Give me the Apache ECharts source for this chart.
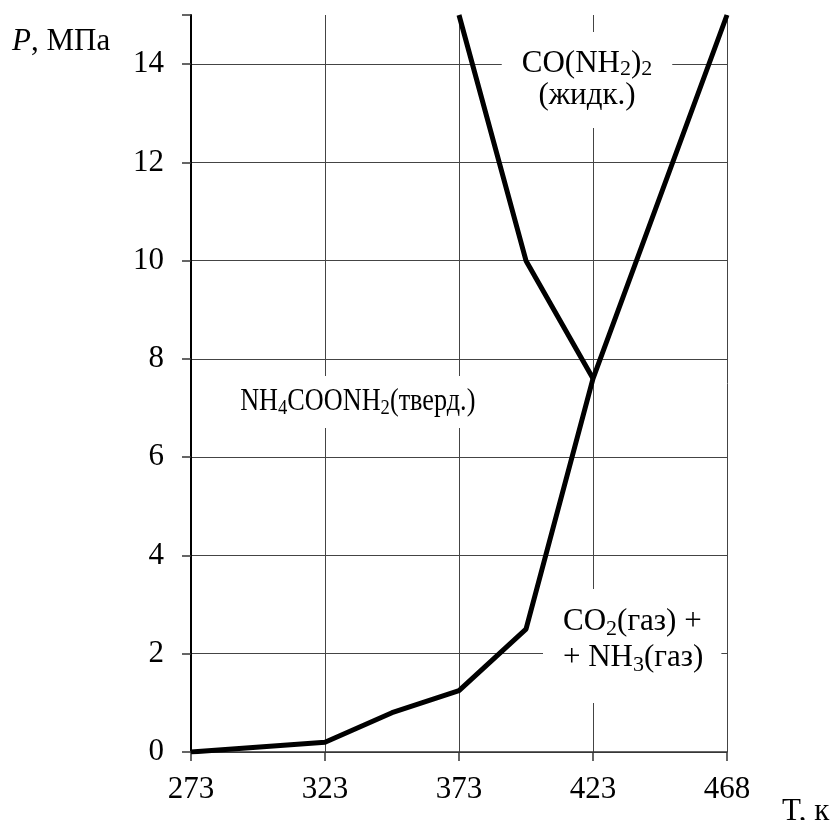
<!DOCTYPE html>
<html>
<head>
<meta charset="utf-8">
<script src="https://cdn.jsdelivr.net/npm/echarts@6/dist/echarts.min.js"></script>
<style>
  html, body { margin: 0; padding: 0; background: #fff; }
  #chart { width: 835px; height: 820px; }
</style>
</head>
<body>
<div id="chart"></div>
<script>
// Temperature slots, K (equal spacing; every second one is labelled)
const temperatures = ['273', '298', '323', '348', '373', '398', '423', '445', '468'];
// Dissociation curve of ammonium carbamate, MPa (null = straight segment through)
const dissociationP = [0, null, 0.2, 0.8, 1.25, 2.5, 7.6, null, 15];
// Boundary with liquid urea, MPa
const meltingP = [null, null, null, null, 15, 10, 7.6, null, null];
// Pressure axis
const pMin = 0, pMax = 15, pStep = 2;

const serif = "'Liberation Serif', 'Times New Roman', serif";
const rich = (size, lh) => ({
  n: { fontFamily: serif, fontSize: size, lineHeight: lh, color: '#000' },
  s: { fontFamily: serif, fontSize: Math.round(size * 0.7), lineHeight: 16, verticalAlign: 'bottom', color: '#000' }
});

const chart = echarts.init(document.getElementById('chart'), null, { renderer: 'canvas' });

chart.setOption({
  backgroundColor: '#fff',
  animation: false,
  grid: { left: 191, right: 108, top: 15, bottom: 68, containLabel: false },
  xAxis: {
    type: 'category',
    data: temperatures,
    boundaryGap: false,
    axisLine: { show: true, lineStyle: { color: '#333', width: 1.5 } },
    axisTick: { show: true, inside: false, length: 9, interval: 1, lineStyle: { color: '#333', width: 1.5 } },
    axisLabel: { interval: 1, margin: 22, fontFamily: serif, fontSize: 31, color: '#000' },
    splitLine: { show: true, interval: 1, lineStyle: { color: '#444', width: 1 } }
  },
  yAxis: {
    type: 'value',
    min: pMin, max: pMax, interval: pStep,
    axisLine: { show: true, lineStyle: { color: '#000', width: 2 } },
    axisTick: { show: true, inside: false, length: 9, lineStyle: { color: '#333', width: 1.5 } },
    axisLabel: {
      margin: 27, fontFamily: serif, fontSize: 31, color: '#000',
      formatter: v => (v % pStep === 0 ? String(v) : '')
    },
    splitLine: { show: true, showMaxLine: false, lineStyle: { color: '#444', width: 1 } }
  },
  series: [
    {
      name: 'dissociation', type: 'line', data: dissociationP, connectNulls: true,
      symbol: 'none', lineStyle: { color: '#000', width: 5 }, z: 5
    },
    {
      name: 'melting', type: 'line', data: meltingP, connectNulls: true,
      symbol: 'none', lineStyle: { color: '#000', width: 5 }, z: 5
    }
  ],
  graphic: [
    {
      type: 'text', left: 12, top: 26, z: 10,
      style: {
        text: '{i|P}{n|, МПа}',
        rich: {
          i: { fontFamily: serif, fontSize: 31, fontStyle: 'italic', color: '#000' },
          n: { fontFamily: serif, fontSize: 31, color: '#000' }
        }
      }
    },
    {
      type: 'text', left: 782, top: 796, z: 10,
      style: { text: 'T, к', fontFamily: serif, fontSize: 31, fill: '#000' }
    },
    {
      type: 'text', x: 587, y: 80, z: 10,
      style: {
        text: '{n|CO(NH}{s|2}{n|)}{s|2}\n{n|(жидк.)}',
        rich: rich(31, 32),
        align: 'center', verticalAlign: 'middle',
        backgroundColor: '#fff', padding: [16, 20]
      }
    },
    {
      // condensed label for the solid-phase region
      type: 'text', x: 230, y: 402, z: 10, scaleX: 0.846,
      style: {
        text: '{n|NH}{s|4}{n|COONH}{s|2}{n|(тверд.)}',
        rich: rich(31, 34),
        align: 'left', verticalAlign: 'middle',
        backgroundColor: '#fff', padding: [9, 12]
      }
    },
    {
      type: 'text', x: 543, y: 589, z: 10,
      style: {
        text: '{n|CO}{s|2}{n|(газ) +}\n{n|+ NH}{s|3}{n|(газ)}',
        rich: rich(31, 36),
        align: 'left', verticalAlign: 'top',
        backgroundColor: '#fff', padding: [15, 18, 27, 20]
      }
    }
  ]
});
</script>
</body>
</html>
